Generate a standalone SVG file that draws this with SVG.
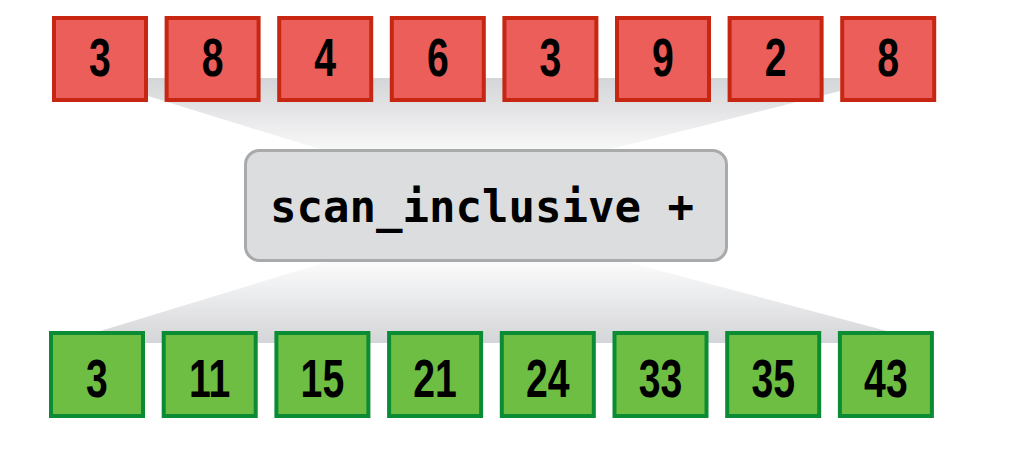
<svg xmlns="http://www.w3.org/2000/svg" width="1024" height="462" viewBox="0 0 1024 462">
<defs>
<linearGradient id="gTop" x1="0" y1="0" x2="0" y2="1">
<stop offset="0" stop-color="#d4d5d8"/>
<stop offset="1" stop-color="#ffffff"/>
</linearGradient>
<linearGradient id="gBot" x1="0" y1="0" x2="0" y2="1">
<stop offset="0" stop-color="#ffffff"/>
<stop offset="1" stop-color="#d4d5d8"/>
</linearGradient>
<style>
.in rect{fill:#eb5e59;stroke:#c62612;stroke-width:4}
.out rect{fill:#6fbe44;stroke:#0b8c34;stroke-width:4}
.num{font-family:"Liberation Sans",Arial,sans-serif;font-weight:bold;font-size:53px;fill:#000;text-anchor:middle}
.op rect{fill:#dcdddf;stroke:#a9aaac;stroke-width:3}
.op text{font-family:"DejaVu Sans Mono","Liberation Mono",monospace;font-weight:bold;font-size:44px;fill:#000;text-anchor:middle}
</style>
</defs>
<rect width="1024" height="462" fill="#ffffff"/>
<g id="connectors">
<polygon points="148,78 840,78 840,91 560,162 371,165 148,96" fill="url(#gTop)"/>
<polygon points="349,255 601,255 932,343 61,343" fill="url(#gBot)"/>
</g>
<g id="in0" class="in"><rect x="54" y="18" width="92" height="82"/><text class="num" transform="translate(100,76) scale(0.74,1)">3</text></g>
<g id="in1" class="in"><rect x="166.6" y="18" width="92" height="82"/><text class="num" transform="translate(212.6,76) scale(0.74,1)">8</text></g>
<g id="in2" class="in"><rect x="279.2" y="18" width="92" height="82"/><text class="num" transform="translate(325.2,76) scale(0.74,1)">4</text></g>
<g id="in3" class="in"><rect x="391.8" y="18" width="92" height="82"/><text class="num" transform="translate(437.8,76) scale(0.74,1)">6</text></g>
<g id="in4" class="in"><rect x="504.4" y="18" width="92" height="82"/><text class="num" transform="translate(550.4,76) scale(0.74,1)">3</text></g>
<g id="in5" class="in"><rect x="617" y="18" width="92" height="82"/><text class="num" transform="translate(663,76) scale(0.74,1)">9</text></g>
<g id="in6" class="in"><rect x="729.6" y="18" width="92" height="82"/><text class="num" transform="translate(775.6,76) scale(0.74,1)">2</text></g>
<g id="in7" class="in"><rect x="842.2" y="18" width="92" height="82"/><text class="num" transform="translate(888.2,76) scale(0.74,1)">8</text></g>
<g id="op" class="op"><rect x="245.5" y="150.5" width="481" height="110" rx="14" ry="14"/><text x="482" y="222">scan_inclusive +</text></g>
<g id="out0" class="out"><rect x="51" y="333" width="92" height="83"/><text class="num" transform="translate(97,397) scale(0.74,1)">3</text></g>
<g id="out1" class="out"><rect x="163.7" y="333" width="92" height="83"/><text class="num" transform="translate(209.7,397) scale(0.74,1)">11</text></g>
<g id="out2" class="out"><rect x="276.4" y="333" width="92" height="83"/><text class="num" transform="translate(322.4,397) scale(0.74,1)">15</text></g>
<g id="out3" class="out"><rect x="389.1" y="333" width="92" height="83"/><text class="num" transform="translate(435.1,397) scale(0.74,1)">21</text></g>
<g id="out4" class="out"><rect x="501.8" y="333" width="92" height="83"/><text class="num" transform="translate(547.8,397) scale(0.74,1)">24</text></g>
<g id="out5" class="out"><rect x="614.5" y="333" width="92" height="83"/><text class="num" transform="translate(660.5,397) scale(0.74,1)">33</text></g>
<g id="out6" class="out"><rect x="727.2" y="333" width="92" height="83"/><text class="num" transform="translate(773.2,397) scale(0.74,1)">35</text></g>
<g id="out7" class="out"><rect x="839.9" y="333" width="92" height="83"/><text class="num" transform="translate(885.9,397) scale(0.74,1)">43</text></g>
</svg>
